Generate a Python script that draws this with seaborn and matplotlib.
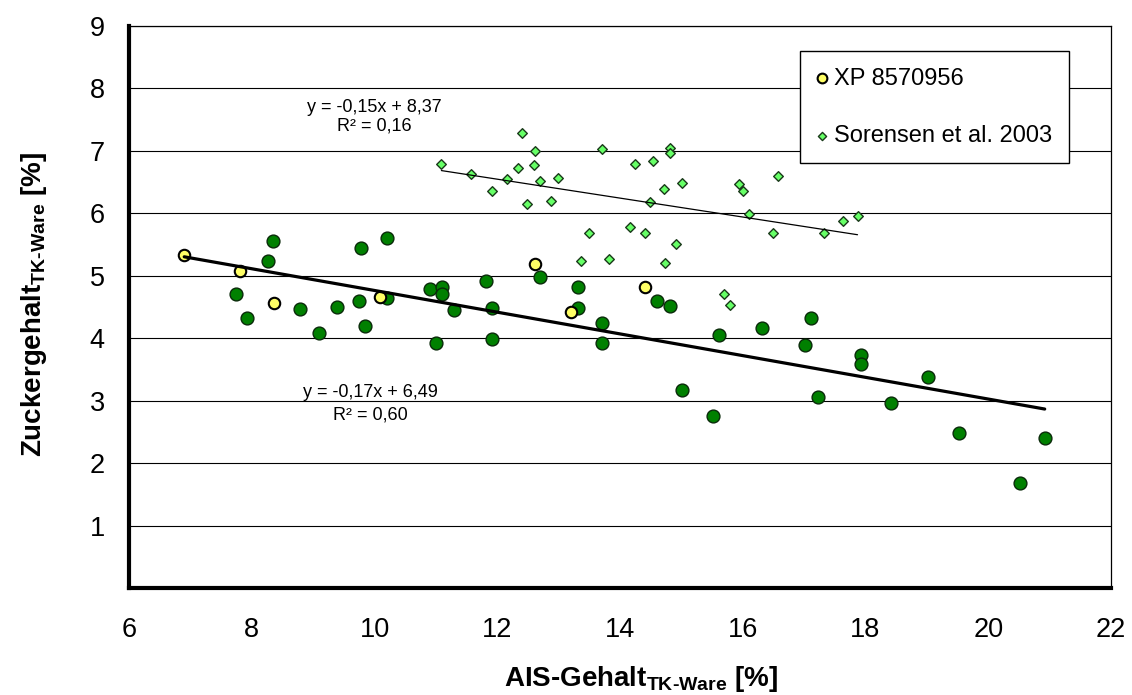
import numpy as np
import pandas as pd
import matplotlib
matplotlib.use("Agg")
import matplotlib.pyplot as plt
import seaborn as sns

# ---------------- data ----------------
green_x = [8.34, 8.26, 7.75, 7.93, 8.78, 9.09, 9.39, 9.78, 10.20, 9.75, 9.85, 10.21,
           10.91, 11.10, 11.10, 11.30, 11.00, 11.81, 11.91, 11.91, 12.70, 13.31, 13.31,
           13.71, 13.71, 14.61, 14.81, 15.01, 15.51, 15.61, 16.31, 17.11, 17.01, 17.22,
           17.92, 17.92, 18.42, 19.02, 19.52, 20.92, 20.52]
green_y = [5.56, 5.24, 4.70, 4.33, 4.47, 4.09, 4.50, 5.45, 5.60, 4.59, 4.20, 4.64,
           4.78, 4.82, 4.71, 4.45, 3.92, 4.91, 4.49, 3.99, 4.98, 4.82, 4.49,
           4.25, 3.92, 4.59, 4.52, 3.18, 2.75, 4.05, 4.16, 4.33, 3.89, 3.06,
           3.74, 3.59, 2.96, 3.38, 2.49, 2.41, 1.68]

xp_x = [6.90, 7.81, 8.37, 10.09, 12.61, 13.20, 14.40]
xp_y = [5.33, 5.08, 4.56, 4.66, 5.19, 4.42, 4.82]

sor_x = [12.41, 12.61, 13.71, 14.82, 14.82, 11.09, 11.57, 12.33, 12.60, 12.16, 12.69,
         12.99, 11.91, 12.48, 12.88, 14.24, 14.54, 14.72, 15.01, 14.49, 15.94, 16.01,
         16.57, 16.10, 16.50, 17.33, 17.63, 17.87, 13.50, 14.17, 14.40, 14.91, 13.36,
         13.82, 14.74, 15.69, 15.79]
sor_y = [7.28, 7.00, 7.02, 7.05, 6.96, 6.78, 6.62, 6.73, 6.77, 6.54, 6.51,
         6.57, 6.36, 6.15, 6.19, 6.78, 6.83, 6.39, 6.49, 6.18, 6.46, 6.36,
         6.59, 5.99, 5.68, 5.69, 5.87, 5.95, 5.69, 5.78, 5.69, 5.50, 5.23,
         5.26, 5.21, 4.70, 4.53]

xticks = [6, 8, 10, 12, 14, 16, 18, 20, 22]
yticks = [1, 2, 3, 4, 5, 6, 7, 8, 9]

legend_xp = "XP 8570956"
legend_sor = "Sorensen et al. 2003"
eq_main = ["y = -0,17x + 6,49", "R² = 0,60"]
eq_sor = ["y = -0,15x + 8,37", "R² = 0,16"]

# ---------------- style ----------------
sns.set_style("white")
plt.rcParams["font.family"] = ["Liberation Sans", "DejaVu Sans"]
plt.rcParams["text.color"] = "black"
plt.rcParams["axes.labelcolor"] = "black"
plt.rcParams["xtick.color"] = "black"
plt.rcParams["ytick.color"] = "black"
plt.rcParams["mathtext.fontset"] = "custom"
plt.rcParams["mathtext.rm"] = "Liberation Sans"
plt.rcParams["mathtext.bf"] = "Liberation Sans:bold"
plt.rcParams["mathtext.it"] = "Liberation Sans:italic"

fig = plt.figure(figsize=(11.32, 6.95), dpi=100)
ax = fig.add_axes([129 / 1132, 1 - 588.3 / 695, 982 / 1132, 562.6 / 695])

df_green = pd.DataFrame({"x": green_x, "y": green_y})
df_xp = pd.DataFrame({"x": xp_x, "y": xp_y})
df_sor = pd.DataFrame({"x": sor_x, "y": sor_y})
df_all = pd.concat([df_green, df_xp], ignore_index=True)

sns.scatterplot(data=df_green, x="x", y="y", ax=ax, s=85, color="#008000",
                edgecolor="#0a2a0a", linewidth=1.0, label="_nolegend_", zorder=3)
sns.scatterplot(data=df_xp, x="x", y="y", ax=ax, s=68, color="#ffff66",
                edgecolor="black", linewidth=1.5, label=legend_xp, zorder=4)
sns.scatterplot(data=df_sor, x="x", y="y", ax=ax, marker="D", s=24, color="#66ff66",
                edgecolor="#1a3a1a", linewidth=1.0, label=legend_sor, zorder=4)

sns.regplot(data=df_all, x="x", y="y", ax=ax, scatter=False, ci=None, truncate=True,
            line_kws=dict(color="black", lw=2.3, zorder=5))
sns.regplot(data=df_sor, x="x", y="y", ax=ax, scatter=False, ci=None, truncate=True,
            line_kws=dict(color="black", lw=0.9, zorder=5))

ax.set_xlim(6, 22)
ax.set_ylim(0, 9)
ax.set_xticks(xticks)
ax.set_yticks(yticks)
ax.yaxis.grid(True, color="black", lw=0.8)
ax.xaxis.grid(False)
ax.set_axisbelow(True)

for side in ["top", "right"]:
    ax.spines[side].set_color("black")
    ax.spines[side].set_linewidth(0.9)
for side in ["left", "bottom"]:
    ax.spines[side].set_color("black")
    ax.spines[side].set_linewidth(3.0)
    ax.spines[side].set_zorder(6)

ax.tick_params(axis="both", which="major", direction="inout", length=13, width=2.6,
               color="black", labelsize=19.5, labelcolor="black")
ax.tick_params(axis="x", pad=14)
ax.tick_params(axis="y", pad=11)

ax.set_xlabel(r"AIS-Gehalt$_{\mathbf{TK‐Ware}}$ [%]", fontsize=20, fontweight="bold")
ax.set_ylabel(r"Zuckergehalt$_{\mathbf{TK‐Ware}}$ [%]", fontsize=20, fontweight="bold")
ax.xaxis.set_label_coords(0.521, -0.135)
ax.yaxis.set_label_coords(-0.081, 0.505)

ax.text(9.93, 3.14, eq_main[0], fontsize=13, ha="center", va="center")
ax.text(9.93, 2.77, eq_main[1], fontsize=13, ha="center", va="center")
ax.text(9.99, 7.69, eq_sor[0], fontsize=13, ha="center", va="center")
ax.text(9.99, 7.40, eq_sor[1], fontsize=13, ha="center", va="center")

leg = ax.legend(loc="upper right", bbox_to_anchor=(0.957, 0.955), borderaxespad=0,
                fontsize=17, frameon=True, fancybox=False, shadow=False,
                labelspacing=1.5, handlelength=0.5, handletextpad=0.25,
                borderpad=0.7, markerscale=0.85)
leg.get_frame().set_edgecolor("black")
leg.get_frame().set_linewidth(1.0)
leg.get_frame().set_alpha(1)
leg.set_zorder(10)

fig.savefig("out.png", dpi=100)
